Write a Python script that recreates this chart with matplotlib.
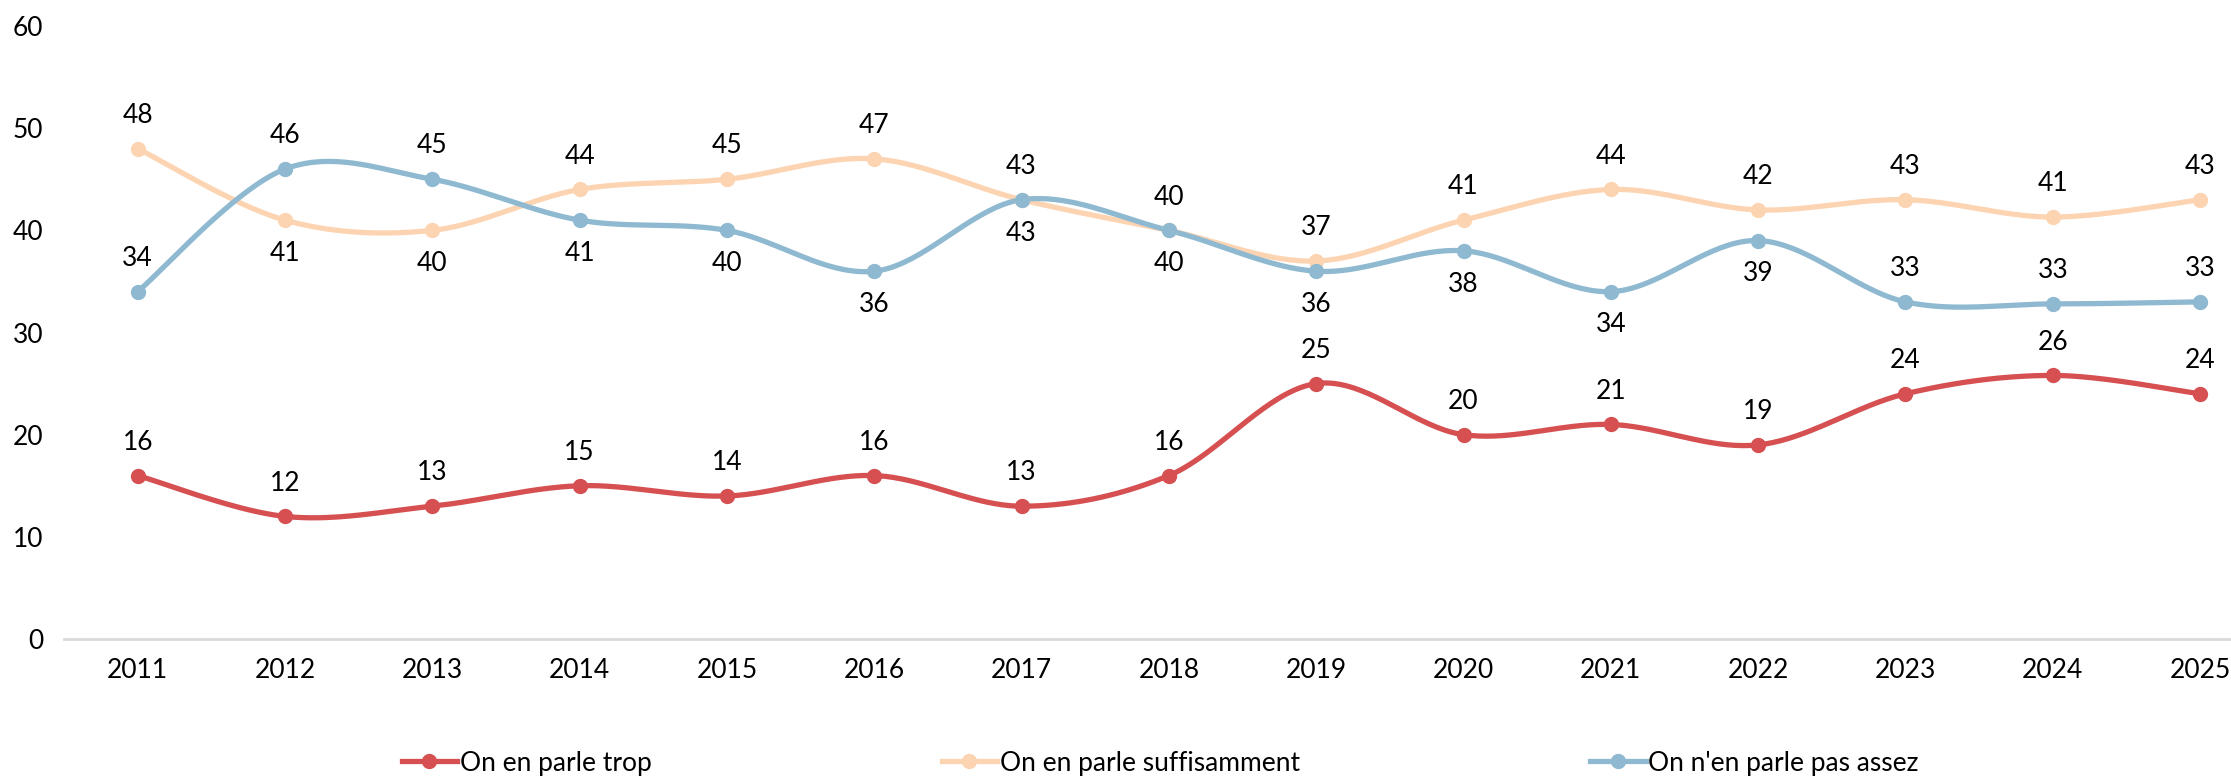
import numpy as np
import matplotlib
matplotlib.use("Agg")
import matplotlib.pyplot as plt

plt.rcParams["font.family"] = ["Lato", "DejaVu Sans"]

years = ["2011", "2012", "2013", "2014", "2015", "2016", "2017", "2018",
         "2019", "2020", "2021", "2022", "2023", "2024", "2025"]
trop = [16, 12, 13, 15, 14, 16, 13, 16, 25, 20, 21, 19, 24, 25.8, 24]
suffisamment = [48, 41, 40, 44, 45, 47, 43, 40, 37, 41, 44, 42, 43, 41.3, 43]
pas_assez = [34, 46, 45, 41, 40, 36, 43, 40, 36, 38, 34, 39, 33, 32.8, 33]

# where each data label goes: +1 above the point, -1 below
pos_trop = [1] * 15
pos_suff = [1, -1, -1, 1, 1, 1, -1, -1, 1, 1, 1, 1, 1, 1, 1]
pos_pas = [1, 1, 1, -1, -1, -1, 1, 1, -1, -1, -1, -1, 1, 1, 1]

series = [
    ("On en parle trop", trop, pos_trop, "#D65052"),
    ("On en parle suffisamment", suffisamment, pos_suff, "#FDD4B2"),
    ("On n'en parle pas assez", pas_assez, pos_pas, "#8EB9D0"),
]


def smooth(x, y, n=40):
    # Excel-style smoothed line: cubic bezier through points (Catmull-Rom)
    pts = np.column_stack([x, y]).astype(float)
    P = np.vstack([pts[0], pts, pts[-1]])
    out = []
    t = np.linspace(0, 1, n)[:, None]
    for i in range(1, len(P) - 2):
        p0, p1, p2, p3 = P[i - 1], P[i], P[i + 1], P[i + 2]
        c1 = p1 + (p2 - p0) / 6
        c2 = p2 - (p3 - p1) / 6
        seg = ((1 - t) ** 3) * p1 + 3 * ((1 - t) ** 2) * t * c1 \
            + 3 * (1 - t) * t ** 2 * c2 + t ** 3 * p2
        out.append(seg if i == 1 else seg[1:])
    return np.vstack(out)


fig = plt.figure(figsize=(22.31, 7.77), dpi=100)
ax = fig.add_axes([0.0287, 0.1776, 0.9713, 0.7889])

x = np.arange(len(years))
handles = []
for name, vals, pos, col in series:
    curve = smooth(x, vals)
    ax.plot(curve[:, 0], curve[:, 1], color=col, lw=3.8, solid_capstyle="round", zorder=2)
    ax.plot(x, vals, "o", color=col, ms=10, zorder=3)
    h, = ax.plot([], [], color=col, lw=3.8, marker="o", ms=10)
    handles.append(h)
    for xi, v, p in zip(x, vals, pos):
        ax.annotate(f"{round(v):d}", (xi, v), xytext=(0, 24 * p), textcoords="offset points",
                    ha="center", va="center", fontsize=19, color="black", zorder=4)

ax.set_xlim(-0.5, 14.21)
ax.set_ylim(0, 60)
ax.set_yticks(range(0, 61, 10))
ax.set_xticks(x)
ax.set_xticklabels(years)
ax.tick_params(axis="both", length=0, labelsize=19)
ax.tick_params(axis="y", pad=15)
ax.tick_params(axis="x", pad=14)
for s in ["top", "right", "left"]:
    ax.spines[s].set_visible(False)
ax.spines["bottom"].set_color("#D9D9D9")
ax.spines["bottom"].set_linewidth(2)
ax.spines["bottom"].set_zorder(1)

fig.legend(handles=handles, labels=[s[0] for s in series], loc="center",
           bbox_to_anchor=(0.52, 0.018), ncol=3, frameon=False, fontsize=19,
           handlelength=2.1, handletextpad=0.1, columnspacing=11,
           borderpad=0, borderaxespad=0)

fig.savefig("out.png", dpi=100)
